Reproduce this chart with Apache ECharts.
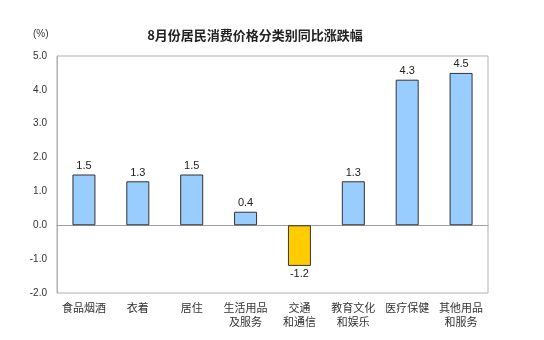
<!DOCTYPE html>
<html><head><meta charset="utf-8">
<script src="https://cdn.jsdelivr.net/npm/echarts@6/dist/echarts.min.js"></script>
<style>html,body{margin:0;padding:0;background:#fff}#c{width:544px;height:340px}</style>
</head><body><div id="c"></div>
<script>
const categories = ['食品烟酒','衣着','居住','生活用品\n及服务','交通\n和通信','教育文化\n和娱乐','医疗保健','其他用品\n和服务'];
const values = [1.5, 1.3, 1.5, 0.4, -1.2, 1.3, 4.3, 4.5];
const yTicks = [-2, -1, 0, 1, 2, 3, 4, 5];
const posColor = '#99CCFF', negColor = '#FFCC00';
const chart = echarts.init(document.getElementById('c'));
chart.setOption({
  animation: false,
  title: {text: '8月份居民消费价格分类别同比涨跌幅', left: 250, textAlign: 'center', top: 24,
    textStyle: {fontSize: 13, fontWeight: 'bold', color: '#222', fontFamily: 'Noto Sans CJK SC'}},
  graphic: [{type: 'text', left: 33, top: 29, style: {text: '(%)', fontSize: 10, fill: '#333', fontFamily: 'Liberation Sans'}}],
  grid: {left: 57, right: 56, top: 56, bottom: 47, show: true, borderColor: '#b0b0b0', borderWidth: 1, containLabel: false},
  xAxis: {type: 'category', data: categories,
    axisLine: {onZero: true, lineStyle: {color: '#a0a0a0'}}, axisTick: {show: false},
    axisLabel: {interval: 0, color: '#333', fontSize: 11, lineHeight: 14, fontFamily: 'Noto Sans CJK SC',
      margin: 8}},
  yAxis: {type: 'value', min: yTicks[0], max: yTicks[yTicks.length-1], interval: 1,
    axisLine: {show: true, lineStyle: {color: '#b0b0b0'}}, axisTick: {show: false}, splitLine: {show: false},
    axisLabel: {color: '#333', fontSize: 10, fontFamily: 'Liberation Sans', margin: 10, formatter: v => v.toFixed(1)}},
  series: [{type: 'bar', barWidth: 23,
    data: values.map(v => ({value: v, itemStyle: {color: v < 0 ? negColor : posColor},
      label: {position: v < 0 ? 'bottom' : 'top'}})),
    itemStyle: {borderColor: '#333', borderWidth: 1},
    label: {show: true, color: '#222', fontSize: 11, fontFamily: 'Liberation Sans', distance: 3, formatter: p => p.value.toFixed(1)}}]
});
</script></body></html>
